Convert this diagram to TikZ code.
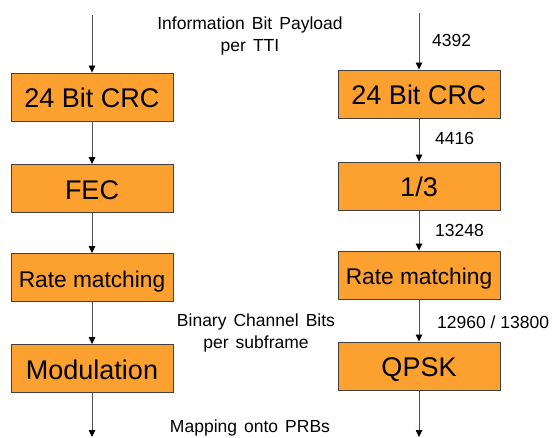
\documentclass[tikz,border=0pt]{standalone}
\usepackage{fontspec}
\setmainfont{Liberation Sans}
\newfontfamily\lblfont[WordSpace=1.45]{Liberation Sans}
\usetikzlibrary{arrows.meta}
\definecolor{boxfill}{RGB}{252,160,48}
\definecolor{boxline}{RGB}{64,64,64}
\definecolor{flowline}{RGB}{80,80,80}

\begin{document}
\begin{tikzpicture}[x=1pt,y=-1pt,
    block/.style={draw=boxline,fill=boxfill,line width=0.9pt,
      minimum width=162pt,minimum height=48pt,inner sep=0pt,
      text height=21.9pt,text depth=0pt,font=\fontsize{27}{30}\selectfont},
    smallblock/.style={block,text height=19.3pt,font=\fontsize{22.7}{26}\selectfont},
    lbl/.style={align=center,inner sep=0pt,font=\lblfont\fontsize{17.5}{21.5}\selectfont},
    num/.style={anchor=west,inner sep=0pt,font=\fontsize{17.5}{21}\selectfont},
    flow/.style={draw=flowline,line width=0.8pt,-{Triangle[length=7pt,width=6.5pt,black]}}]
  \useasboundingbox (0,0) rectangle (553,437);

  % left chain
  \coordinate (inL) at (92,15);
  \node[block] (crcL) at (92,97) {24 Bit CRC};
  \node[block] (fecL) at (92,188.5) {FEC};
  \node[smallblock] (rmL) at (92,277.5) {Rate matching};
  \node[block] (modL) at (92,368.5) {Modulation};
  \coordinate (outL) at (92,437);

  % right chain
  \coordinate (inR) at (419,13);
  \node[block] (crcR) at (419,94) {24 Bit CRC};
  \node[block] (codeR) at (419,186) {1/3};
  \node[smallblock] (rmR) at (419,275) {Rate matching};
  \node[block] (qpskR) at (419,366) {QPSK};
  \coordinate (outR) at (419,437);

  \draw[flow] (inL) -- (crcL);
  \draw[flow] (crcL) -- (fecL);
  \draw[flow] (fecL) -- (rmL);
  \draw[flow] (rmL) -- (modL);
  \draw[flow] (modL) -- (outL);

  \draw[flow] (inR) -- (crcR);
  \draw[flow] (crcR) -- (codeR);
  \draw[flow] (codeR) -- (rmR);
  \draw[flow] (rmR) -- (qpskR);
  \draw[flow] (qpskR) -- (outR);

  % labels in the middle
  \node[lbl] (payload) at (250,36) {Information Bit Payload\\per TTI};
  \node[lbl] (chbits) at (256,333) {Binary Channel Bits\\per subframe};
  \node[lbl] (mapping) at (250,428) {Mapping onto PRBs};

  % bit counts
  \node[num] (n4392) at (432,40) {4392};
  \node[num] (n4416) at (435,138) {4416};
  \node[num] (n13248) at (435,230) {13248};
  \node[num] (n12960) at (437,322) {12960 / 13800};
\end{tikzpicture}
\end{document}
